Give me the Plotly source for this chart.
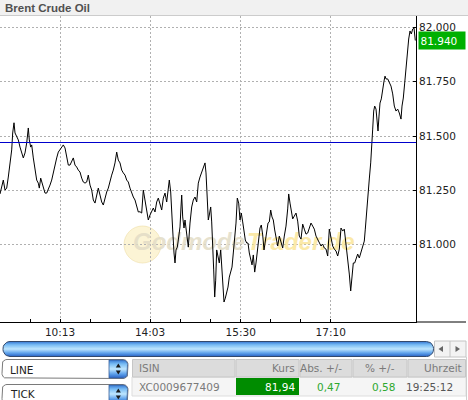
import numpy as np
import plotly.graph_objects as go

# ---------------- data ----------------
title = "Brent Crude Oil"
seq = [0, 3.3, 5, 6.7, 8.3, 10, 11.7, 12.7, 14, 15, 16.7, 18.3, 20, 21.7, 23.3, 25, 26.7, 28.3, 29.3, 30.7,
       31.7, 33.3, 35, 36.7, 38.3, 39.3, 40.7, 42, 43.3, 45, 46.7, 48.3, 50, 51.7, 53.3, 55, 56.7, 58.3, 60, 61.7,
       63.3, 65, 66.7, 68.3, 70, 71.7, 73.3, 75, 76.7, 78.3, 80, 81.7, 83.3, 85, 86.7, 88.3, 90, 91.7, 93.3, 95,
       96.7, 98.3, 100, 101.7, 103.3, 105, 106.7, 108.3, 110, 111.7, 113.3, 115, 116.7, 118.3, 120, 121.7, 123.3,
       125, 126.7, 128.3, 130, 131.7, 133.3, 135, 136.7, 138.3,
       140, 141.7, 143.3, 145, 146.7, 148.3, 150, 151.7, 153.3, 155, 156.7, 158.3, 160, 161.7, 163.3, 165, 166.7,
       168.3, 169.3, 170.7, 171.7, 172.7, 174, 175, 176, 177.3, 178.3, 180, 181, 181.7, 182.7, 184, 185, 186.7,
       188.3, 190, 191.7, 193.3, 195, 196.7, 198.3, 200, 201.7, 203.3, 205, 206, 207.3, 208.3, 209.3, 210.7, 211.7,
       212.7, 213.7, 214.7, 215.7, 216.7, 218, 219.3, 220.7, 221.7, 222.7, 224, 225.3, 226.7, 228, 229.3, 230.7,
       232, 233.3, 234.7, 236, 237.3, 238.7, 240, 241.3, 242.7, 244, 245.3, 246.7, 248, 249.3, 250.7, 252, 253.3,
       254.7, 256, 257.3, 258.7, 260, 261.3, 262.7, 264, 265.3, 266.7, 268, 269.3, 270.7, 272, 273.3, 274.7,
       276, 277.7, 279.3, 281, 282.7, 284.3, 286, 287.7, 288.7, 290, 291, 292.7, 294.3, 296, 297.7, 299.3, 301,
       302.7, 304.3, 306, 307.7, 309.3, 311, 312.7, 314.3, 316, 317.7, 319.3, 321, 322.7, 324.3, 326, 327.7, 329.3,
       331, 332.7, 334.3, 336, 337.7, 339.3, 341, 342.7, 344.3, 346, 347.7, 349.3, 350.7, 352, 353.3, 354.7, 356,
       357.7, 359.3, 361, 362.7, 364.3, 365.3, 366.7, 368, 369.3, 370.7, 372, 372.7, 373.7, 374.7, 376, 377, 378,
       379, 380, 381.3, 382.7, 384, 385, 386, 387.7, 389.3, 391, 392.7, 394.3, 396, 397.7, 399.3, 401, 402, 403.3,
       404.7, 406, 407.3, 408.7, 410, 411.3, 412.7, 414, 415.3]
price = [81.233, 81.297, 81.251, 81.260, 81.311, 81.376, 81.436, 81.514, 81.561, 81.514, 81.495, 81.482, 81.449,
         81.426, 81.399, 81.422, 81.468, 81.537, 81.482, 81.449, 81.459, 81.399, 81.343, 81.297, 81.283, 81.260,
         81.306, 81.288, 81.260, 81.237, 81.237, 81.260, 81.274, 81.297, 81.334, 81.357, 81.399, 81.426, 81.436,
         81.449, 81.459, 81.445, 81.403, 81.366, 81.366, 81.380, 81.399, 81.366, 81.357, 81.343, 81.334, 81.306,
         81.288, 81.283, 81.288, 81.320, 81.274, 81.251, 81.205, 81.191, 81.228, 81.260, 81.228, 81.196, 81.182,
         81.214, 81.242, 81.260, 81.297, 81.320, 81.343, 81.376, 81.426, 81.389, 81.376, 81.343, 81.330, 81.320,
         81.297, 81.288, 81.260, 81.237, 81.219, 81.205, 81.173, 81.150,
         81.151, 81.145, 81.251, 81.196, 81.150, 81.113, 81.136, 81.150, 81.168, 81.150, 81.196, 81.214, 81.182,
         81.159, 81.214, 81.237, 81.196, 81.265, 81.297, 81.242, 81.173, 81.067, 80.961, 80.915, 80.975, 80.988,
         81.021, 81.081, 81.173, 81.228, 81.127, 81.076, 81.113, 81.053, 80.988, 81.099, 81.173, 81.205, 81.219,
         81.196, 81.283, 81.311, 81.334, 81.353, 81.376, 81.330, 81.219, 81.113, 81.136, 81.173, 81.104, 81.021,
         80.883, 80.758, 80.836, 80.975, 80.942, 80.915, 80.975, 80.896, 80.836, 80.735, 80.753, 80.781, 80.804,
         80.850, 80.869, 80.896, 80.961, 81.021, 81.099, 81.214, 81.191, 81.113, 81.145, 81.104, 81.067, 81.021,
         81.007, 81.007, 80.961, 80.929, 80.906, 80.952, 80.873, 80.915, 80.975, 81.030, 81.076, 81.090, 81.044,
         80.975, 81.021, 81.076, 81.099, 81.104, 81.159, 81.127, 81.113, 81.067,
         81.025, 80.993, 81.039, 81.007, 80.984, 81.039, 81.085, 81.164, 81.233, 81.191, 81.168, 81.118, 81.131,
         81.145, 81.108, 81.039, 81.025, 81.094, 81.071, 81.048, 81.053, 81.076, 81.099, 81.085, 81.071, 81.039,
         81.025, 81.007, 80.993, 81.002, 80.984, 80.979, 80.947, 81.071, 81.025, 80.993, 80.979, 80.970, 80.947,
         80.979, 81.076, 81.062, 81.071, 81.007, 80.915, 80.864, 80.786, 80.841, 80.915, 80.915, 80.933, 80.956,
         80.938, 80.961, 80.984, 81.016, 81.071, 81.164, 81.224, 81.302, 81.376, 81.454, 81.532, 81.615, 81.638,
         81.624, 81.560, 81.523, 81.592, 81.652, 81.671, 81.721, 81.753, 81.776, 81.763, 81.763, 81.744, 81.730,
         81.694, 81.638, 81.615, 81.624, 81.606, 81.578, 81.638, 81.675, 81.744, 81.823, 81.901, 81.947, 81.984,
         81.970, 81.993, 81.998, 81.940]
x_tick_pos = [60, 150, 240.7, 330.7]
x_tick_text = ["10:13", "14:03", "15:30", "17:10"]
x_minor_pos = [30, 90, 120, 180, 210, 270, 300]
y_ticks = [81.0, 81.25, 81.5, 81.75, 82.0]
prev_close = 81.47
last_price = 81.94
table_headers = ["ISIN", "Kurs", "Abs. +/-", "% +/-", "Uhrzeit"]
table_row = ["XC0009677409", "81,94", "0,47", "0,58", "19:25:12"]
chart_type = "LINE"
resolution = "TICK"

# ---------------- geometry (pixels) ----------------
W, H = 468, 400
PL, PR, PT, PB = 0, 416, 16, 322
Y_TOP, Y_BOT = 82.053, 80.643
X_MIN, X_MAX = 0, 416


def fx(px):
    return px / W


def fy(py):
    return 1 - py / H


def val(py):
    return Y_TOP - (py - PT) / (PB - PT) * (Y_TOP - Y_BOT)


def rounded(x0, y0, x1, y1, radii, n=7):
    tr, br, bl, tl = radii
    xs, ys = [], []

    def arc(cx, cy, r, a0, a1):
        if r == 0:
            xs.append(cx); ys.append(cy); return
        for a in np.linspace(np.radians(a0), np.radians(a1), n):
            xs.append(cx + r * np.cos(a)); ys.append(cy + r * np.sin(a))

    arc(x1 - tr, y0 + tr, tr, -90, 0)
    arc(x1 - br, y1 - br, br, 0, 90)
    arc(x0 + bl, y1 - bl, bl, 90, 180)
    arc(x0 + tl, y0 + tl, tl, 180, 270)
    xs.append(xs[0]); ys.append(ys[0])
    return xs, ys


fig = go.Figure()

# watermark (behind the price line)
wm_font = dict(family="Liberation Sans, Arial", size=24, weight="bold", style="italic")
fig.add_trace(go.Scatter(x=[245], y=[val(244)], mode="text", text=["Godmode"], textposition="middle left",
                         textfont=dict(color="rgba(226,220,198,0.85)", **wm_font), hoverinfo="skip", showlegend=False))
fig.add_trace(go.Scatter(x=[247], y=[val(244)], mode="text", text=["Trader.de"], textposition="middle right",
                         textfont=dict(color="rgba(250,228,145,0.8)", **wm_font), hoverinfo="skip", showlegend=False))

# price line
fig.add_trace(go.Scatter(x=seq, y=price, mode="lines", line=dict(color="black", width=1),
                         hoverinfo="skip", showlegend=False))
# previous close
fig.add_trace(go.Scatter(x=[X_MIN, X_MAX], y=[prev_close, prev_close], mode="lines",
                         line=dict(color="#0000cc", width=1.2), hoverinfo="skip", showlegend=False))

# ------------- widget traces (pixel axes x2/y2) -------------
def widget(xs, ys, **kw):
    fig.add_trace(go.Scatter(x=xs, y=ys, xaxis="x2", yaxis="y2", mode="lines", fill="toself",
                             hoverinfo="skip", showlegend=False, **kw))


blue_scale = [[0, "#2a62c4"], [0.22, "#5b9fea"], [0.5, "#bfe6fe"], [0.78, "#78bcf4"], [1, "#3476d2"]]
# scrollbar
xs, ys = rounded(3, 341.5, 433.5, 356.5, (7, 7, 7, 7))
widget(xs, ys, line=dict(color="#33496c", width=1),
       fillgradient=dict(type="vertical", colorscale=blue_scale))
# dropdowns
for y0 in (359.5, 384.5):
    xs, ys = rounded(2, y0, 128, y0 + 19, (5, 5, 5, 5))
    widget(xs, ys, line=dict(color="#7a7a7a", width=1), fillcolor="white")
    xs, ys = rounded(109, y0 + 0.5, 127.5, y0 + 18.5, (4.5, 4.5, 0, 0))
    widget(xs, ys, line=dict(color="#3a5f9a", width=0.8),
           fillgradient=dict(type="vertical", colorscale=blue_scale))

# ---------------- shapes ----------------
shapes = []
# title bar
shapes.append(dict(type="rect", xref="paper", yref="paper", x0=0, x1=1, y0=fy(15.5), y1=1,
                   fillcolor="#f1f1f1", line=dict(width=0), layer="above"))
shapes.append(dict(type="line", xref="paper", yref="paper", x0=0, x1=1, y0=fy(15.5), y1=fy(15.5),
                   line=dict(color="#cccccc", width=1), layer="above"))
# x-axis line continues under the price labels
shapes.append(dict(type="line", xref="paper", yref="paper", x0=fx(PR), x1=fx(466), y0=fy(PB), y1=fy(PB),
                   line=dict(color="black", width=1), layer="above"))
# watermark emblem
shapes.append(dict(type="circle", xref="paper", yref="paper", x0=fx(124), x1=fx(161), y0=fy(263), y1=fy(226),
                   fillcolor="rgba(250,236,185,0.6)", line=dict(color="rgba(238,222,165,0.6)", width=1),
                   layer="below"))
# scrollbar arrow buttons
shapes.append(dict(type="rect", xref="paper", yref="paper", x0=fx(434.5), x1=fx(466), y0=fy(357), y1=fy(341),
                   fillcolor="#f3f3f3", line=dict(color="#c4c4c4", width=1), layer="above"))
shapes.append(dict(type="line", xref="paper", yref="paper", x0=fx(450), x1=fx(450), y0=fy(357), y1=fy(341),
                   line=dict(color="#c4c4c4", width=1), layer="above"))


def tri(points, color):
    path = "M " + " L ".join(f"{fx(a):.5f},{fy(b):.5f}" for a, b in points) + " Z"
    shapes.append(dict(type="path", xref="paper", yref="paper", path=path, fillcolor=color,
                       line=dict(width=0), layer="above"))


tri([(443, 346), (438.5, 349), (443, 352)], "#666666")
tri([(455.5, 346), (460, 349), (455.5, 352)], "#666666")
for y0 in (359.5, 384.5):
    tri([(118.3, y0 + 4), (115.8, y0 + 8), (120.8, y0 + 8)], "#1a1a1a")
    tri([(115.8, y0 + 11), (120.8, y0 + 11), (118.3, y0 + 15)], "#1a1a1a")

# table
col_edges = [132, 235.5, 299.5, 352.5, 407.5, 466]
shapes.append(dict(type="rect", xref="paper", yref="paper", x0=fx(132), x1=fx(466), y0=fy(396), y1=fy(377),
                   fillcolor="#f5f5f5", line=dict(color="#dddddd", width=1), layer="above"))
for a, b in zip(col_edges[:-1], col_edges[1:]):
    shapes.append(dict(type="rect", xref="paper", yref="paper", x0=fx(a + 0.5), x1=fx(b - 0.5),
                       y0=fy(377), y1=fy(359.5), fillcolor="#dcdcdc",
                       line=dict(color="#c6c6c6", width=1), layer="above"))
shapes.append(dict(type="rect", xref="paper", yref="paper", x0=fx(236), x1=fx(299), y0=fy(395), y1=fy(378),
                   fillcolor="#008c00", line=dict(width=0), layer="above"))
shapes.append(dict(type="line", xref="paper", yref="paper", x0=fx(466.5), x1=fx(466.5), y0=fy(400), y1=fy(357),
                   line=dict(color="#cfcfcf", width=1), layer="above"))

# ---------------- annotations ----------------
ann = []
ann.append(dict(text=f"<b>{title}</b>", xref="paper", yref="paper", x=fx(3), y=fy(7.8), xanchor="left",
                yanchor="middle", showarrow=False,
                font=dict(family="Liberation Sans, Arial", size=11.5, color="#505050")))
ann.append(dict(text=f"{last_price:.3f}", xref="paper", yref="y", x=fx(418), y=last_price, xanchor="left",
                yanchor="middle", showarrow=False, bgcolor="#00b000", borderpad=1.5, width=43, height=14,
                align="left", font=dict(family="DejaVu Sans", size=10.5, color="white")))

tf = "DejaVu Sans"
ann.append(dict(text=chart_type, xref="paper", yref="paper", x=fx(8), y=fy(369.5), xanchor="left",
                yanchor="middle", showarrow=False, font=dict(family=tf, size=10.5, color="#222222")))
ann.append(dict(text=resolution, xref="paper", yref="paper", x=fx(8), y=fy(394), xanchor="left",
                yanchor="middle", showarrow=False, font=dict(family=tf, size=10.5, color="#222222")))

head_x = [(137, "left"), (297, "right"), (344, "right"), (397, "right"), (464, "right")]
row_x = [(137, "left"), (297, "right"), (342, "right"), (397, "right"), (455, "right")]
row_col = ["#7a7a7a", "white", "#2ea82e", "#2ea82e", "#555555"]
for (px, anc), t in zip(head_x, table_headers):
    ann.append(dict(text=t, xref="paper", yref="paper", x=fx(px), y=fy(368), xanchor=anc, yanchor="middle",
                    showarrow=False, font=dict(family=tf, size=10.5, color="#7a7a7a")))
for (px, anc), t, c in zip(row_x, table_row, row_col):
    ann.append(dict(text=t, xref="paper", yref="paper", x=fx(px), y=fy(386.5), xanchor=anc, yanchor="middle",
                    showarrow=False, font=dict(family=tf, size=10.5, color=c)))

grid = dict(showgrid=True, gridcolor="#b0b0b0", griddash="2px,2px", gridwidth=1)

fig.update_layout(
    width=W, height=H, margin=dict(l=0, r=0, t=0, b=0),
    paper_bgcolor="white", plot_bgcolor="rgba(0,0,0,0)",
    showlegend=False, hovermode=False,
    xaxis=dict(domain=[fx(PL), fx(PR)], range=[X_MIN, X_MAX], tickmode="array", tickvals=x_tick_pos,
               ticktext=x_tick_text, ticks="inside", ticklen=3, tickcolor="black", showline=True,
               linecolor="black", linewidth=1, zeroline=False, automargin=False,
               tickfont=dict(family="DejaVu Sans", size=10.5, color="#222222"),
               minor=dict(tickmode="array", tickvals=x_minor_pos, ticks="inside", ticklen=3,
                          tickcolor="black", showgrid=False),
               anchor="y", fixedrange=True, **grid),
    yaxis=dict(domain=[fy(PB), fy(PT)], range=[Y_BOT, Y_TOP], side="right", tickmode="array",
               tickvals=y_ticks, ticktext=[f"{v:.3f}" for v in y_ticks], ticks="inside", ticklen=3,
               tickcolor="black", showline=True, linecolor="black", linewidth=1, zeroline=False,
               automargin=False, anchor="x", fixedrange=True,
               tickfont=dict(family="DejaVu Sans", size=10.5, color="#222222"), **grid),
    xaxis2=dict(domain=[0, 1], range=[0, W], visible=False, anchor="y2", fixedrange=True),
    yaxis2=dict(domain=[0, 1], range=[H, 0], visible=False, anchor="x2", fixedrange=True),
    shapes=shapes, annotations=ann,
)

fig.write_html("out.html", config={"displayModeBar": False, "staticPlot": True},
               post_script="document.body.style.margin='0';document.body.style.overflow='hidden';")
